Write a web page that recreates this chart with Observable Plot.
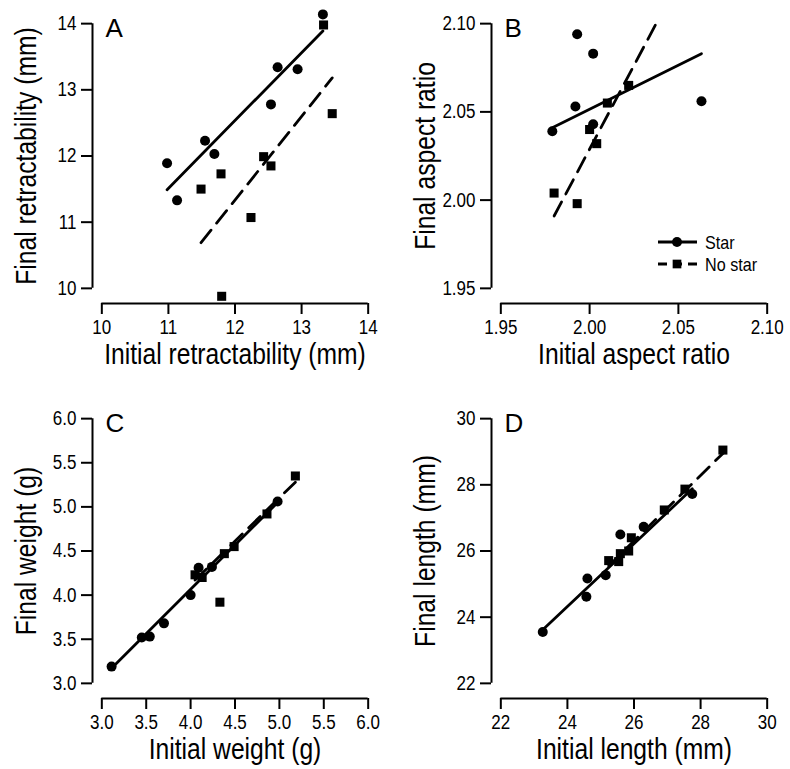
<!DOCTYPE html>
<html><head><meta charset="utf-8">
<script src="https://cdn.jsdelivr.net/npm/d3@7"></script>
<script src="https://cdn.jsdelivr.net/npm/@observablehq/plot@0.6"></script>
<style>
html,body{margin:0;padding:0;background:#fff;}
#chart{position:relative;width:790px;height:769px;overflow:hidden;background:#fff;}
.panel{position:absolute;}
.panel svg{overflow:visible;}
</style></head><body><div id="chart"></div>
<script>
// ---------- data ----------
const panelLetters = ["A", "B", "C", "D"];
const xTitles = ["Initial retractability (mm)", "Initial aspect ratio", "Initial weight (g)", "Initial length (mm)"];
const yTitles = ["Final retractability (mm)", "Final aspect ratio", "Final weight (g)", "Final length (mm)"];
const legendLabels = ["Star", "No star"];

const ticksA = [10, 11, 12, 13, 14];
const ticksB = [1.95, 2.00, 2.05, 2.10];
const ticksC = [3.0, 3.5, 4.0, 4.5, 5.0, 5.5, 6.0];
const ticksD = [22, 24, 26, 28, 30];

// Panel A: retractability
const starInitA  = [13.32, 12.64, 12.94, 12.54, 11.55, 11.69, 10.98, 11.13];
const starFinalA = [14.14, 13.34, 13.31, 12.78, 12.23, 12.03, 11.89, 11.33];
const noInitA    = [13.33, 13.46, 12.43, 12.54, 11.79, 11.49, 12.24, 11.80];
const noFinalA   = [13.98, 12.64, 11.99, 11.85, 11.73, 11.50, 11.07, 9.88];
const fitStarXA = [10.98, 13.32], fitStarYA = [11.49, 13.89];
const fitNoXA   = [11.49, 13.46], fitNoYA   = [10.69, 13.18];

// Panel B: aspect ratio
const starInitB  = [1.993, 2.002, 1.992, 1.979, 2.002, 2.063];
const starFinalB = [2.094, 2.083, 2.053, 2.039, 2.043, 2.056];
const noInitB    = [1.980, 1.993, 2.000, 2.004, 2.010, 2.022];
const noFinalB   = [2.004, 1.998, 2.040, 2.032, 2.055, 2.065];
const fitStarXB = [1.979, 2.063], fitStarYB = [2.041, 2.083];
const fitNoXB   = [1.980, 2.038], fitNoYB   = [1.991, 2.101];

// Panel C: weight
const starInitC  = [3.11, 3.45, 3.54, 3.70, 4.00, 4.09, 4.24, 4.98];
const starFinalC = [3.19, 3.52, 3.53, 3.68, 4.00, 4.31, 4.32, 5.06];
const noInitC    = [5.18, 4.86, 4.49, 4.38, 4.05, 4.13, 4.33];
const noFinalC   = [5.35, 4.92, 4.55, 4.47, 4.23, 4.20, 3.92];
const fitStarXC = [3.11, 4.98], fitStarYC = [3.17, 5.05];
const fitNoXC   = [4.05, 5.18], fitNoYC   = [4.17, 5.28];

// Panel D: length
const starInitD  = [23.26, 24.57, 24.60, 25.15, 25.59, 26.29, 27.75];
const starFinalD = [23.55, 24.62, 25.17, 25.27, 26.50, 26.73, 27.72];
const noInitD    = [28.67, 27.53, 26.91, 25.92, 25.84, 25.59, 25.54, 25.24];
const noFinalD   = [29.05, 27.87, 27.24, 26.40, 26.00, 25.92, 25.68, 25.71];
const fitStarXD = [23.26, 27.75], fitStarYD = [23.62, 27.88];
const fitNoXD   = [25.24, 28.67], fitNoYD   = [25.55, 28.95];

// ---------- styling ----------
const FONT = '"Liberation Sans", Arial, Helvetica, sans-serif';
const CONDENSE = 0.85;     // the reference uses a narrow sans
const TICK_FS = 20;
const TITLE_FS = 29;
const LEG_FS = 19;
const LETTER_FS = 26;

const zip = (xs, ys) => xs.map((x, i) => ({x, y: ys[i]}));

const panels = [
  {letter: panelLetters[0], xt: ticksA, yt: ticksA, fmt: d3.format("d"),
   star: zip(starInitA, starFinalA), no: zip(noInitA, noFinalA),
   fs: zip(fitStarXA, fitStarYA), fn: zip(fitNoXA, fitNoYA), xTitle: xTitles[0], yTitle: yTitles[0], col: 0, row: 0},
  {letter: panelLetters[1], xt: ticksB, yt: ticksB, fmt: d3.format(".2f"),
   star: zip(starInitB, starFinalB), no: zip(noInitB, noFinalB),
   fs: zip(fitStarXB, fitStarYB), fn: zip(fitNoXB, fitNoYB), xTitle: xTitles[1], yTitle: yTitles[1], col: 1, row: 0},
  {letter: panelLetters[2], xt: ticksC, yt: ticksC, fmt: d3.format(".1f"),
   star: zip(starInitC, starFinalC), no: zip(noInitC, noFinalC),
   fs: zip(fitStarXC, fitStarYC), fn: zip(fitNoXC, fitNoYC), xTitle: xTitles[2], yTitle: yTitles[2], col: 0, row: 1},
  {letter: panelLetters[3], xt: ticksD, yt: ticksD, fmt: d3.format("d"),
   star: zip(starInitD, starFinalD), no: zip(noInitD, noFinalD),
   fs: zip(fitStarXD, fitStarYD), fn: zip(fitNoXD, fitNoYD), xTitle: xTitles[3], yTitle: yTitles[3], col: 1, row: 1}
];

const chart = document.getElementById("chart");
const COL_OFF = 399, ROW_OFF = 395;
const ML = 92, FRAME_W = 285, MT = 8, FRAME_BOTTOM = 303;
const PADX = 0.035, PADY = 0.0572;
const TICK = 11, XPAD = 5, TITLE_DY = 51.5;
const DASH = "16,9";

function condense(svg) {
  svg.querySelectorAll("text").forEach(t => {
    if (/^[A-D]$/.test(t.textContent.trim())) return;
    const L = t.getComputedTextLength();
    if (L > 0) {
      t.setAttribute("textLength", (L * CONDENSE).toFixed(2));
      t.setAttribute("lengthAdjust", "spacingAndGlyphs");
    }
  });
}

for (const p of panels) {
  const W = p.col === 0 ? COL_OFF : 790 - COL_OFF;
  const H = p.row === 0 ? ROW_OFF : 769 - ROW_OFF;
  const x0 = p.xt[0], x1 = p.xt[p.xt.length - 1];
  const y0 = p.yt[0], y1 = p.yt[p.yt.length - 1];
  const xd = [x0 - PADX * (x1 - x0), x1 + PADX * (x1 - x0)];
  const yd = [y0 - PADY * (y1 - y0), y1 + PADY * (y1 - y0)];
  const svg = Plot.plot({
    width: W, height: H,
    marginLeft: ML, marginRight: W - ML - FRAME_W, marginTop: MT, marginBottom: H - FRAME_BOTTOM,
    x: {domain: xd},
    y: {domain: yd},
    style: {fontFamily: FONT, fontSize: TICK_FS + "px", color: "#000", background: "transparent", overflow: "visible"},
    marks: [
      Plot.ruleX([xd[0]], {y1: y0, y2: y1, stroke: "#000", strokeWidth: 2}),
      Plot.ruleY([yd[0]], {x1: x0, x2: x1, stroke: "#000", strokeWidth: 2}),
      Plot.axisY({ticks: p.yt, tickFormat: p.fmt, tickSize: TICK, tickPadding: 5, label: null, strokeWidth: 2, fontSize: TICK_FS}),
      Plot.axisX({ticks: p.xt, tickFormat: p.fmt, tickSize: TICK, tickPadding: XPAD, label: null, strokeWidth: 2, fontSize: TICK_FS}),
      Plot.line(p.fs, {x: "x", y: "y", stroke: "#000", strokeWidth: 2.8}),
      Plot.line(p.fn, {x: "x", y: "y", stroke: "#000", strokeWidth: 2.8, strokeDasharray: DASH}),
      Plot.dot(p.star, {x: "x", y: "y", r: 5, fill: "#000", symbol: "circle"}),
      Plot.dot(p.no, {x: "x", y: "y", r: 5.1, fill: "#000", symbol: "square"}),
      Plot.text([p.letter], {text: d => d, frameAnchor: "top-left", textAnchor: "start", lineAnchor: "top", dx: 13, dy: 10,
        fontSize: LETTER_FS}),
      Plot.text([p.xTitle], {text: d => d, frameAnchor: "bottom", textAnchor: "middle", lineAnchor: "middle", dy: TITLE_DY, fontSize: TITLE_FS}),
      Plot.text([p.yTitle], {text: d => d, frameAnchor: "left", textAnchor: "middle", rotate: -90, lineAnchor: "middle", dx: -66, fontSize: TITLE_FS})
    ]
  });
  const div = document.createElement("div");
  div.className = "panel";
  div.style.left = (p.col * COL_OFF) + "px";
  div.style.top = (p.row * ROW_OFF) + "px";
  div.appendChild(svg);
  chart.appendChild(div);
  condense(svg);
}

// ---------- legend in panel B ----------
const legendRows = [
  {label: legendLabels[0], dash: null, symbol: d3.symbolCircle, size: Math.PI * 5 * 5},
  {label: legendLabels[1], dash: "9,6", symbol: d3.symbolSquare, size: Math.PI * 4.9 * 4.9}
];
const leg = d3.create("svg").attr("width", 140).attr("height", 56)
  .style("position", "absolute").style("left", "650px").style("top", "229px")
  .style("font-family", FONT).style("font-size", LEG_FS + "px");
legendRows.forEach((r, i) => {
  const g = leg.append("g").attr("transform", `translate(0,${13 + i * 22})`);
  g.append("line").attr("x1", 8).attr("x2", 47).attr("y1", 0).attr("y2", 0)
    .attr("stroke", "#000").attr("stroke-width", 2.8).attr("stroke-dasharray", r.dash);
  g.append("path").attr("d", d3.symbol(r.symbol, r.size)()).attr("transform", "translate(27,0)").attr("fill", "#000");
  g.append("text").attr("x", 55).attr("y", 0).attr("dy", "0.35em").text(r.label);
});
chart.appendChild(leg.node());
condense(leg.node());
</script>
</body></html>
